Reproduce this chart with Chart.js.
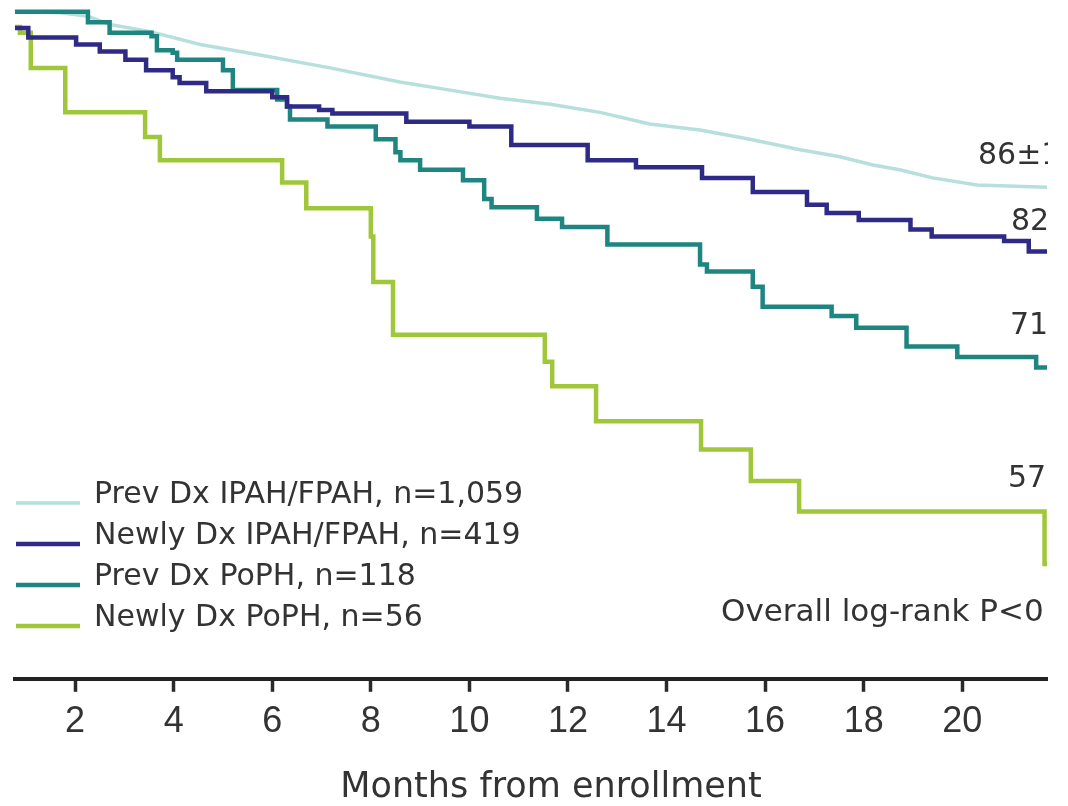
<!DOCTYPE html>
<html>
<head>
<meta charset="utf-8">
<script src="https://cdn.jsdelivr.net/npm/chart.js@4.4.1/dist/chart.umd.min.js"></script>
<style>
  html, body { margin: 0; padding: 0; background: #fff; }
  #wrap { width: 1068px; height: 806px; position: relative; }
</style>
</head>
<body>
<div id="wrap"><canvas id="km"></canvas></div>
<script>
// ------------------------------------------------------------
// Data (months, survival %)
// ------------------------------------------------------------
const xTickValues = [2, 4, 6, 8, 10, 12, 14, 16, 18, 20];

const seriesLabels = [
    'Prev Dx IPAH/FPAH, n=1,059',
    'Newly Dx IPAH/FPAH, n=419',
    'Prev Dx PoPH, n=118',
    'Newly Dx PoPH, n=56'
];

const prevIpahMonths = [0.78, 1.70, 2.27, 2.71, 3.52, 4.54, 5.75, 7.17, 8.59, 9.61, 10.62, 11.64, 12.65, 13.66, 14.68, 15.69, 16.71, 17.52, 18.19, 18.73, 19.40, 20.30, 21.72];
const prevIpahSurv   = [100.0, 99.9, 99.6, 98.9, 98.3, 97.2, 96.3, 95.2, 94.0, 93.3, 92.6, 92.1, 91.4, 90.4, 89.9, 89.1, 88.2, 87.6, 86.9, 86.5, 85.8, 85.2, 85.0];

const newIpahMonths = [0.78, 1.05, 2.02, 2.50, 3.02, 3.44, 3.98, 4.12, 4.66, 6.00, 6.30, 6.95, 7.22, 8.72, 10.00, 10.85, 12.40, 13.38, 14.72, 15.75, 16.85, 17.25, 17.90, 18.95, 19.38, 20.85, 21.35, 21.72];
const newIpahSurv   = [98.6, 97.8, 97.2, 96.6, 95.9, 95.0, 94.4, 93.9, 93.2, 92.7, 91.9, 91.6, 91.3, 90.6, 90.2, 88.6, 87.3, 86.7, 85.8, 84.6, 83.5, 82.8, 82.2, 81.4, 80.8, 80.4, 79.5, 79.5];

const prevPophMonths = [0.78, 2.26, 2.70, 3.55, 3.66, 3.98, 4.07, 5.00, 5.20, 6.10, 6.30, 6.36, 7.12, 8.10, 8.50, 8.60, 9.00, 9.87, 10.30, 10.45, 11.37, 11.88, 12.80, 14.68, 14.82, 15.75, 15.95, 17.35, 17.85, 18.87, 19.90, 21.50, 21.72];
const prevPophSurv   = [100.0, 99.1, 98.2, 97.9, 96.7, 96.5, 95.9, 95.0, 93.3, 92.5, 91.9, 90.8, 90.2, 89.1, 88.0, 87.3, 86.5, 85.6, 84.0, 83.3, 82.3, 81.6, 80.1, 78.4, 77.8, 76.5, 74.8, 74.0, 73.0, 71.4, 70.5, 69.6, 69.6];

const newPophMonths = [0.78, 0.88, 1.10, 1.80, 3.42, 3.72, 6.20, 6.69, 8.00, 8.05, 8.45, 11.53, 11.68, 12.57, 14.70, 15.71, 16.69, 21.67, 21.72];
const newPophSurv   = [98.7, 98.2, 95.2, 91.4, 89.3, 87.3, 85.4, 83.2, 80.8, 76.9, 72.4, 70.1, 68.0, 65.0, 62.6, 59.9, 57.3, 52.8, 52.8];

const endLabels = ['86±1', '82', '71', '57'];
const pValueText = 'Overall log-rank P<0';
const xAxisTitle = 'Months from enrollment';

// ------------------------------------------------------------
// Styles
// ------------------------------------------------------------
const seriesColors = ['#b6dfde', '#2e2a86', '#1f8580', '#a0c739'];
const seriesWidths = [3.5, 4.5, 4.5, 4.5];
const textColor = '#333';

const toPoints = (months, surv) => months.map((m, i) => ({ x: m, y: surv[i] }));

// Legend, end-of-curve labels, p-value and axis title drawn over the chart
const overlayText = {
    id: 'overlayText',
    afterDraw(chart) {
        const ctx = chart.ctx;
        const area = chart.chartArea;
        ctx.save();

        // legend in the lower left corner
        ctx.font = '30px "DejaVu Sans"';
        ctx.textBaseline = 'middle';
        ctx.textAlign = 'left';
        ctx.fillStyle = textColor;
        seriesLabels.forEach((label, i) => {
            const y = 495 + i * 41;
            ctx.strokeStyle = seriesColors[i];
            ctx.lineWidth = seriesWidths[i];
            ctx.beginPath();
            ctx.moveTo(16, y + 8);
            ctx.lineTo(80, y + 8);
            ctx.stroke();
            ctx.fillText(label, 94, y);
        });

        // axis title
        ctx.font = '35px "DejaVu Sans"';
        ctx.textAlign = 'center';
        ctx.textBaseline = 'alphabetic';
        ctx.fillText(xAxisTitle, 551, 797);

        // labels cut at the right edge of the plot
        ctx.beginPath();
        ctx.rect(0, 0, area.right + 1, chart.height);
        ctx.clip();
        ctx.textAlign = 'left';
        ctx.textBaseline = 'middle';
        ctx.font = '30px "DejaVu Sans"';
        const labelPos = [[978, 156], [1011, 222], [1010, 326], [1008, 479]];
        endLabels.forEach((t, i) => ctx.fillText(t, labelPos[i][0], labelPos[i][1]));
        ctx.font = '31px "DejaVu Sans"';
        ctx.fillText(pValueText, 721, 613);

        ctx.restore();
    }
};

new Chart(document.getElementById('km'), {
    type: 'line',
    data: {
        datasets: [
            { label: seriesLabels[0], data: toPoints(prevIpahMonths, prevIpahSurv), borderColor: seriesColors[0], borderWidth: seriesWidths[0], stepped: false, order: 4 },
            { label: seriesLabels[1], data: toPoints(newIpahMonths, newIpahSurv), borderColor: seriesColors[1], borderWidth: seriesWidths[1], stepped: 'before', order: 1 },
            { label: seriesLabels[2], data: toPoints(prevPophMonths, prevPophSurv), borderColor: seriesColors[2], borderWidth: seriesWidths[2], stepped: 'before', order: 2 },
            { label: seriesLabels[3], data: toPoints(newPophMonths, newPophSurv), borderColor: seriesColors[3], borderWidth: seriesWidths[3], stepped: 'before', order: 3 }
        ]
    },
    options: {
        responsive: true,
        maintainAspectRatio: false,
        animation: false,
        layout: { padding: { left: 15, right: 21, top: 0, bottom: 53 } },
        elements: {
            point: { radius: 0, hoverRadius: 0 },
            line: { fill: false, tension: 0, borderJoinStyle: 'miter', borderCapStyle: 'butt' }
        },
        plugins: {
            legend: { display: false },
            tooltip: { enabled: false }
        },
        scales: {
            x: {
                type: 'linear',
                min: 0.78,
                max: 21.72,
                afterBuildTicks: scale => { scale.ticks = xTickValues.map(v => ({ value: v })); },
                border: { display: true, color: '#222', width: 4 },
                grid: { drawOnChartArea: false, drawTicks: true, tickLength: 13, tickWidth: 3.5, tickColor: '#2a2a2a' },
                ticks: {
                    autoSkip: false,
                    maxRotation: 0,
                    padding: 9,
                    color: textColor,
                    font: { family: '"Liberation Sans", Arial, sans-serif', size: 36 }
                }
            },
            y: {
                display: false,
                min: 43,
                max: 101
            }
        }
    },
    plugins: [overlayText]
});
</script>
</body>
</html>
